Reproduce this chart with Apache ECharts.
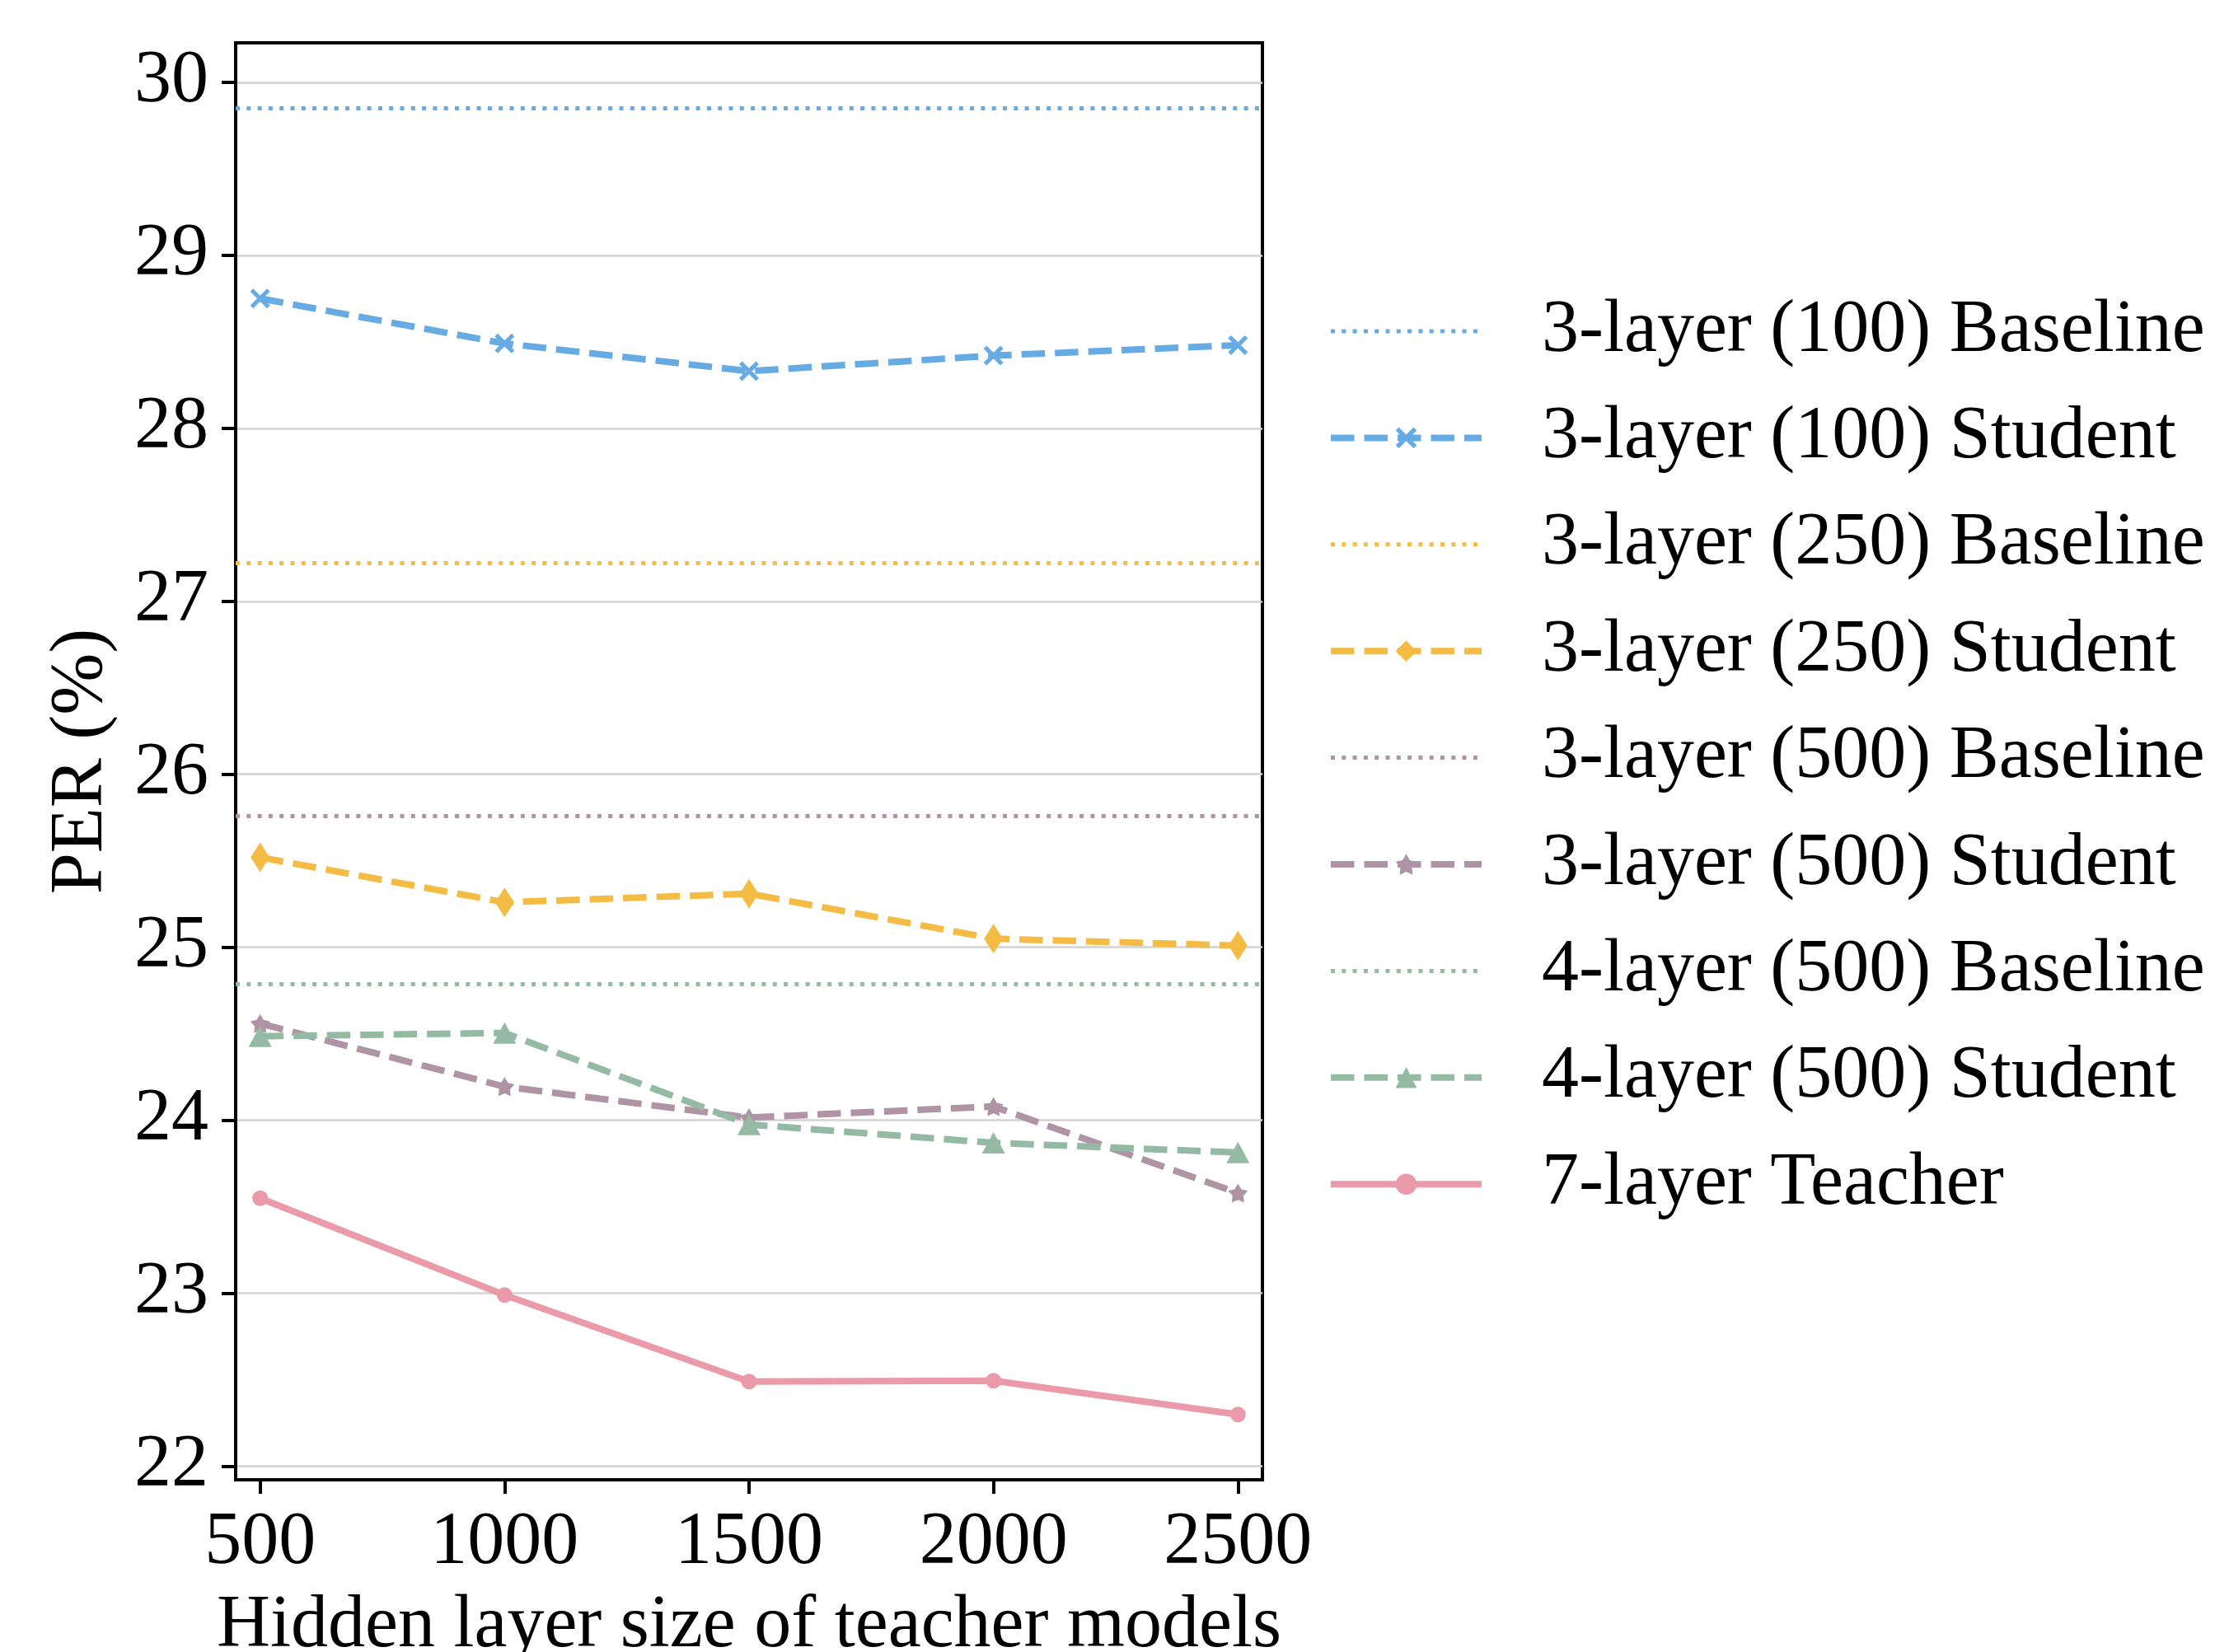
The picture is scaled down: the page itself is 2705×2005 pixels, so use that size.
<!DOCTYPE html>
<html>
<head>
<meta charset="utf-8">
<script src="https://cdn.jsdelivr.net/npm/echarts@6/dist/echarts.min.js"></script>
<style>
html,body{margin:0;padding:0;background:#fff;}
#chart{width:2705px;height:2005px;}
</style>
</head>
<body>
<div id="chart"></div>
<script>
// ---- data ----
const hiddenSizes = [500, 1000, 1500, 2000, 2500];
const xTicks = [500, 1000, 1500, 2000, 2500];
const yTicks = [22, 23, 24, 25, 26, 27, 28, 29, 30];

const baseline3L100 = 29.85;
const student3L100 = [28.75, 28.49, 28.33, 28.42, 28.48];
const baseline3L250 = 27.22;
const student3L250 = [25.52, 25.26, 25.31, 25.05, 25.01];
const baseline3L500 = 25.76;
const student3L500 = [24.56, 24.195, 24.016, 24.08, 23.58];
const baseline4L500 = 24.79;
const student4L500 = [24.486, 24.505, 23.976, 23.87, 23.814];
const teacher7L = [23.55, 22.99, 22.49, 22.495, 22.30];

const names = [
  '3-layer (100) Baseline', '3-layer (100) Student',
  '3-layer (250) Baseline', '3-layer (250) Student',
  '3-layer (500) Baseline', '3-layer (500) Student',
  '4-layer (500) Baseline', '4-layer (500) Student',
  '7-layer Teacher'
];

// ---- styles ----
const C_BLUE = '#66ABE4', C_YEL = '#F4BC44', C_MAUVE = '#AE94A4', C_GREEN = '#94BAA4', C_PINK = '#EA9AA8';
const FONT = "'Liberation Serif', 'Times New Roman', serif";
const DOT = [5, 8.3], DASH = [28.5, 12];
const X_PATH = 'path://M1.5,0L5,3.5L8.5,0L10,1.5L6.5,5L10,8.5L8.5,10L5,6.5L1.5,10L0,8.5L3.5,5L0,1.5Z';
const STAR_PATH = 'path://M5,0L6.62,2.78L9.76,3.45L7.62,5.85L7.94,9.05L5,7.75L2.06,9.05L2.38,5.85L0.24,3.45L3.38,2.78Z';

function pairs(vals) { return hiddenSizes.map((x, i) => [x, vals[i]]); }

function baseline(name, value, color) {
  return {
    name, type: 'line', data: [], symbol: 'none',
    lineStyle: { color, width: 5, type: DOT },
    itemStyle: { color },
    markLine: {
      silent: true, symbol: 'none', label: { show: false },
      lineStyle: { color, width: 5, type: DOT, opacity: 1 },
      emphasis: { disabled: true },
      data: [{ yAxis: value }]
    }
  };
}
function student(name, vals, color, symbol, size, dashed) {
  return {
    name, type: 'line', data: pairs(vals),
    symbol, symbolSize: size, showSymbol: true, symbolKeepAspect: false,
    lineStyle: { color, width: 8, type: dashed ? DASH : 'solid' },
    itemStyle: { color, borderWidth: 0 },
    emphasis: { disabled: true },
    animation: false
  };
}

const chart = echarts.init(document.getElementById('chart'));
chart.setOption({
  animation: false,
  backgroundColor: '#fff',
  textStyle: { fontFamily: FONT },
  grid: {
    left: 286, right: 1173, top: 52, bottom: 209,
    outerBoundsMode: 'none', containLabel: false,
    show: true, borderColor: '#000', borderWidth: 4, backgroundColor: 'transparent'
  },
  xAxis: {
    type: 'value', min: 450, max: 2550,
    name: 'Hidden layer size of teacher models',
    nameLocation: 'middle', nameGap: 133,
    nameTextStyle: { fontSize: 90, color: '#000', fontFamily: FONT, lineHeight: 90 },
    axisLine: { show: true, lineStyle: { color: '#000', width: 4 } },
    axisTick: { show: true, length: 17, lineStyle: { color: '#000', width: 4 }, customValues: xTicks },
    axisLabel: { fontSize: 90, color: '#000', fontFamily: FONT, margin: 32, lineHeight: 90,
                 customValues: xTicks, formatter: v => String(v) },
    splitLine: { show: false }
  },
  yAxis: {
    type: 'value', min: 21.9225, max: 30.2275,
    name: 'PER (%)',
    nameLocation: 'middle', nameGap: 142,
    nameTextStyle: { fontSize: 90, color: '#000', fontFamily: FONT, lineHeight: 90 },
    axisLine: { show: true, lineStyle: { color: '#000', width: 4 } },
    axisTick: { show: true, length: 17, lineStyle: { color: '#000', width: 4 }, customValues: yTicks },
    axisLabel: { fontSize: 90, color: '#000', fontFamily: FONT, margin: 33, customValues: yTicks,
                 formatter: v => String(v) },
    splitLine: { show: true, lineStyle: { color: '#d3d3d3', width: 2.5 } }
  },
  legend: {
    orient: 'vertical', left: 1606, top: 347,
    itemWidth: 183, itemHeight: 32, itemGap: 29.4,
    selectedMode: false,
    textStyle: { fontSize: 90, color: '#000', fontFamily: FONT, lineHeight: 100, padding: [0, 0, 0, 68] },
    lineStyle: { width: 'inherit', type: 'inherit' },
    data: names.map((n, i) => i % 2 === 0 && i < 8 ? { name: n, itemStyle: { opacity: 0 } } : { name: n })
  },
  series: [
    baseline(names[0], baseline3L100, C_BLUE),
    student(names[1], student3L100, C_BLUE, X_PATH, [24, 24], true),
    baseline(names[2], baseline3L250, C_YEL),
    student(names[3], student3L250, C_YEL, 'diamond', [23, 36], true),
    baseline(names[4], baseline3L500, C_MAUVE),
    student(names[5], student3L500, C_MAUVE, STAR_PATH, [24, 23], true),
    baseline(names[6], baseline4L500, C_GREEN),
    student(names[7], student4L500, C_GREEN, 'triangle', [28, 26], true),
    student(names[8], teacher7L, C_PINK, 'circle', 19, false)
  ]
});
</script>
</body>
</html>
